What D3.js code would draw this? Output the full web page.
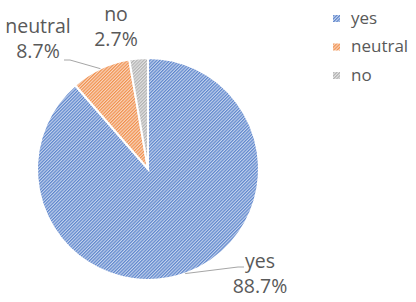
<!DOCTYPE html>
<html>
<head>
<meta charset="utf-8">
<script src="https://cdn.jsdelivr.net/npm/d3@7"></script>
<style>
  body { margin: 0; background: #fff; }
  text { font-family: "Open Sans", "Noto Sans", sans-serif; fill: #595959; }
</style>
</head>
<body>
<svg id="chart"></svg>
<script>
const categories = ["yes", "neutral", "no"];
const values = [88.7, 8.7, 2.7];
const labels = ["88.7%", "8.7%", "2.7%"];
const colors = ["#4472C4", "#ED7D31", "#A5A5A5"];

const width = 416;
const height = 302;
const cx = 148, cy = 169, radius = 111;

const svg = d3.select("#chart").attr("width", width).attr("height", height);

// hatch patterns (upward diagonal), fine and light
const defs = svg.append("defs");
colors.forEach((c, i) => {
  const p = defs.append("pattern")
    .attr("id", "hatch" + i)
    .attr("patternUnits", "userSpaceOnUse")
    .attr("width", 2.3).attr("height", 4)
    .attr("patternTransform", "rotate(45)");
  p.append("rect").attr("width", 2.3).attr("height", 4).attr("fill", c).attr("opacity", 0.3);
  p.append("rect").attr("width", 1.2).attr("height", 4).attr("fill", c).attr("opacity", 0.8);
});

const data = categories.map((c, i) => ({ cat: c, value: values[i], label: labels[i], idx: i }));

const pie = d3.pie().sort(null).value(d => d.value);
const arc = d3.arc().innerRadius(0).outerRadius(radius);
const arcs = pie(data);

const g = svg.append("g").attr("transform", `translate(${cx},${cy})`);

g.selectAll("path")
  .data(arcs)
  .enter()
  .append("path")
  .attr("d", arc)
  .attr("fill", d => `url(#hatch${d.data.idx})`)
  .attr("stroke", "#fff")
  .attr("stroke-width", 2);

// data labels (centre x, first baseline)
const labelPos = [
  { x: 260, y: 268 },
  { x: 38, y: 33 },
  { x: 116, y: 21 }
];

arcs.forEach((a, i) => {
  const lp = labelPos[i];
  const t = svg.append("text")
    .attr("x", lp.x)
    .attr("y", lp.y)
    .attr("text-anchor", "middle")
    .style("font-size", "19.5px");
  t.append("tspan").attr("x", lp.x).text(a.data.cat);
  t.append("tspan").attr("x", lp.x).attr("dy", 25).text(a.data.label);
});

// leader lines
const edge = ang => [cx + radius * Math.sin(ang), cy - radius * Math.cos(ang)];
const yesAng = 2.8;
svg.append("polyline")
  .attr("points", [edge(yesAng), [238, 267], [244, 267]].map(p => p.join(",")).join(" "))
  .attr("fill", "none").attr("stroke", "#a6a6a6").attr("stroke-width", 1);

const neuMid = (arcs[1].startAngle + arcs[1].endAngle) / 2;
svg.append("polyline")
  .attr("points", [edge(neuMid), [70, 60], [64, 60]].map(p => p.join(",")).join(" "))
  .attr("fill", "none").attr("stroke", "#a6a6a6").attr("stroke-width", 1);

// legend
const legend = svg.append("g").attr("transform", "translate(333,15)");
data.forEach((d, i) => {
  const row = legend.append("g").attr("transform", `translate(0,${i * 28.5})`);
  row.append("rect").attr("width", 7).attr("height", 7)
    .attr("fill", `url(#hatch${d.idx})`);
  row.append("text").attr("x", 18).attr("y", 8.5).style("font-size", "17px").text(d.cat);
});
</script>
</body>
</html>
